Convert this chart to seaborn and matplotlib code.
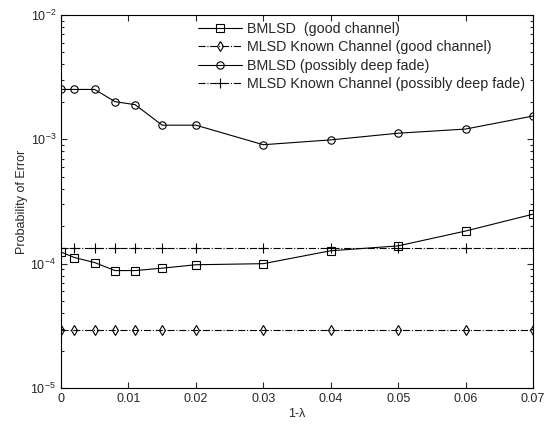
import numpy as np
import pandas as pd
import matplotlib
matplotlib.use("Agg")
import matplotlib.pyplot as plt
import seaborn as sns
from matplotlib.ticker import LogLocator, NullFormatter

sns.set_style("ticks")
plt.rcParams['font.family'] = ['Liberation Sans', 'DejaVu Sans']
plt.rcParams['mathtext.fontset'] = 'custom'
plt.rcParams['mathtext.rm'] = 'Liberation Sans'

# data
one_minus_lambda = [0, 0.002, 0.005, 0.008, 0.011, 0.015, 0.02, 0.03, 0.04, 0.05, 0.06, 0.07]
bmlsd_good = [1.24e-4, 1.12e-4, 1.02e-4, 8.8e-5, 8.8e-5, 9.2e-5, 9.8e-5, 1.0e-4, 1.27e-4, 1.39e-4, 1.83e-4, 2.5e-4]
mlsd_good = [2.92e-5] * 12
bmlsd_fade = [2.52e-3, 2.52e-3, 2.52e-3, 2.01e-3, 1.9e-3, 1.3e-3, 1.3e-3, 9.05e-4, 9.9e-4, 1.12e-3, 1.21e-3, 1.54e-3]
mlsd_fade = [1.34e-4] * 12

labels = ['BMLSD  (good channel)',
          'MLSD Known Channel (good channel)',
          'BMLSD (possibly deep fade)',
          'MLSD Known Channel (possibly deep fade)']
series = [bmlsd_good, mlsd_good, bmlsd_fade, mlsd_fade]
markers = ['s', 'd', 'o', '+']
styles = ['-', '-.', '-', '-.']
msizes = [5.8, 5.5, 5.3, 7]

fig = plt.figure(figsize=(5.47, 4.29), dpi=100)
ax = fig.add_axes([0.1115, 0.0956, 0.8629, 0.8694])

for lab, vals, mk, ls, ms in zip(labels, series, markers, styles, msizes):
    df = pd.DataFrame({'x': one_minus_lambda, 'y': vals})
    sns.lineplot(data=df, x='x', y='y', ax=ax, color='black', linewidth=0.8,
                 linestyle=ls, marker=mk, markersize=ms, markerfacecolor='none',
                 markeredgecolor='black', markeredgewidth=0.8, label=lab)

ax.set_yscale('log')
ax.set_xlim(0, 0.07)
ax.set_ylim(1e-5, 1e-2)
ax.set_xticks(np.arange(0, 0.071, 0.01))
ax.set_xticklabels(['0', '0.01', '0.02', '0.03', '0.04', '0.05', '0.06', '0.07'])
ax.yaxis.set_major_locator(LogLocator(base=10, numticks=10))
ax.yaxis.set_minor_locator(LogLocator(base=10, subs=np.arange(2, 10), numticks=10))
ax.yaxis.set_minor_formatter(NullFormatter())
ax.tick_params(which='both', direction='in', top=True, right=True, labelsize=9, width=0.8)
ax.tick_params(which='major', length=4)
ax.tick_params(which='minor', length=2.5)
for s in ax.spines.values():
    s.set_linewidth(0.8)
    s.set_color('black')

ax.set_xlabel('1-λ', fontsize=9, labelpad=2)
ax.set_ylabel('Probability of Error', fontsize=9, labelpad=2)

ax.legend(loc='upper right', bbox_to_anchor=(0.998, 1.0), frameon=False, fontsize=10.3,
          handlelength=3.1, handletextpad=0.3, labelspacing=0.3, borderaxespad=0.1)

fig.savefig('out.png', dpi=100)
